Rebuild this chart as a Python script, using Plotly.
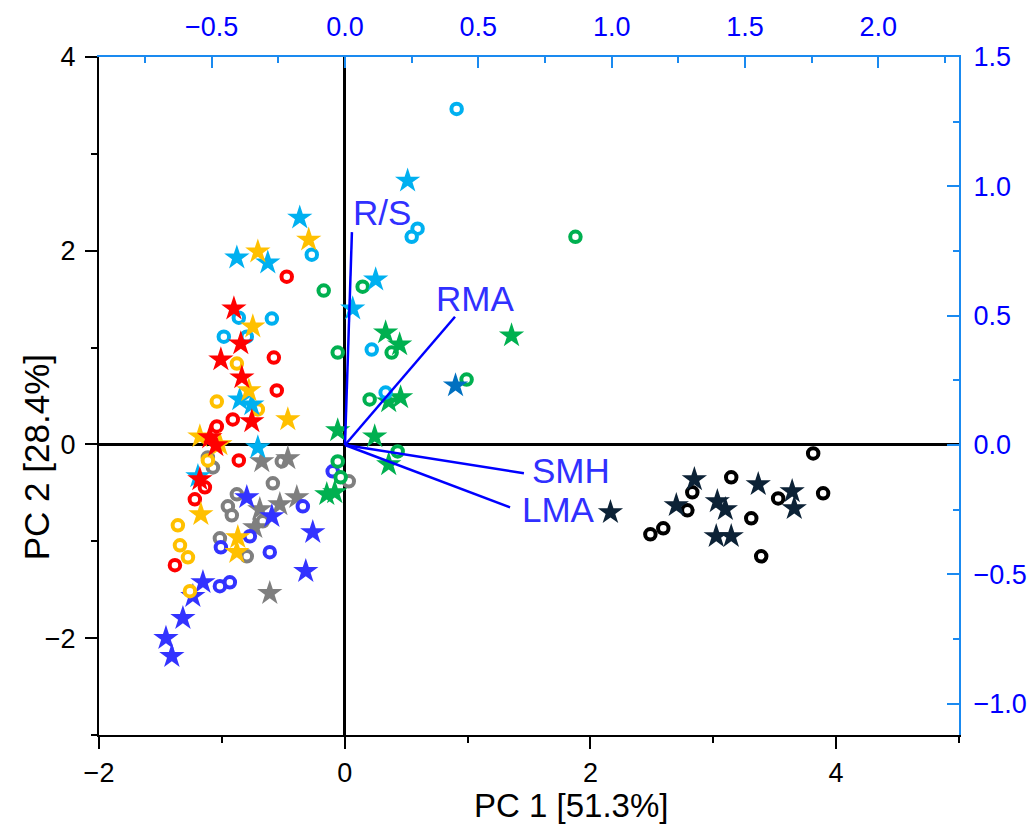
import plotly.graph_objects as go

# ---- PCA scores (PC1, PC2), one list pair per group ----
sky_star_x = [0.512, -0.366, -0.878, -0.626, 0.252, 0.065, -0.854, -0.756, -0.707, -1.195]
sky_star_y = [2.722, 2.340, 1.928, 1.876, 1.701, 1.402, 0.464, 0.412, -0.031, -0.330]
sky_circ_x = [0.911, 0.593, 0.545, -0.268, -0.862, -0.593, -0.984, -0.797, 0.220, 0.333]
sky_circ_y = [3.464, 2.227, 2.144, 1.959, 1.309, 1.299, 1.113, 1.113, 0.979, 0.536]

yel_star_x = [-0.707, -0.293, -0.748, -0.780, -0.463, -1.179, -1.016, -1.171, -0.870, -0.878]
yel_star_y = [1.990, 2.113, 1.216, 0.557, 0.258, 0.082, 0.000, -0.722, -0.959, -1.113]
yel_circ_x = [-0.878, -1.041, -0.707, -1.114, -1.358, -1.341, -1.276, -1.260]
yel_circ_y = [0.835, 0.443, 0.361, -0.165, -0.835, -1.041, -1.165, -1.515]

red_star_x = [-0.902, -0.846, -1.008, -0.837, -0.756, -1.098, -1.049, -1.179]
red_star_y = [1.402, 1.041, 0.876, 0.691, 0.237, 0.072, -0.010, -0.361]
red_circ_x = [-0.472, -0.577, -0.553, -0.911, -1.041, -0.862, -1.138, -1.220, -1.382]
red_circ_y = [1.732, 0.897, 0.557, 0.258, 0.186, -0.165, -0.443, -0.567, -1.247]

grn_star_x = [0.333, 0.447, 1.358, 0.358, 0.455, -0.057, 0.244, 0.358, -0.146, -0.081]
grn_star_y = [1.155, 1.031, 1.124, 0.443, 0.485, 0.144, 0.082, -0.206, -0.515, -0.495]
grn_circ_x = [-0.171, 0.146, 1.878, -0.057, 0.382, 0.992, 0.203, 0.431, -0.057, -0.033]
grn_circ_y = [1.588, 1.629, 2.144, 0.948, 0.948, 0.670, 0.464, -0.072, -0.175, -0.340]

dkb_star_x = [0.902]
dkb_star_y = [0.608]

gry_star_x = [-0.675, -0.463, -0.691, -0.528, -0.390, -0.732, -0.610]
gry_star_y = [-0.175, -0.144, -0.670, -0.619, -0.546, -0.856, -1.536]
gry_circ_x = [-1.114, -1.073, -0.512, -0.585, -0.878, -0.951, -0.919, -0.667, -1.016, -0.797, 0.033]
gry_circ_y = [-0.134, -0.237, -0.175, -0.402, -0.515, -0.639, -0.732, -0.794, -0.969, -1.155, -0.381]

blu_star_x = [-0.797, -0.593, -0.260, -0.317, -1.154, -1.236, -1.317, -1.455, -1.407]
blu_star_y = [-0.546, -0.742, -0.907, -1.309, -1.423, -1.567, -1.794, -2.000, -2.186]
blu_circ_x = [-0.098, -0.341, -0.772, -1.008, -0.610, -1.016, -0.935]
blu_circ_y = [-0.278, -0.639, -0.948, -1.062, -1.113, -1.464, -1.423]

blk_circ_x = [3.813, 3.146, 2.829, 3.894, 3.528, 2.789, 3.309, 2.593, 2.488, 3.390]
blk_circ_y = [-0.093, -0.340, -0.495, -0.505, -0.557, -0.680, -0.763, -0.866, -0.928, -1.155]
nvy_star_x = [2.846, 3.366, 3.642, 3.033, 2.699, 3.098, 3.659, 2.163, 3.024, 3.146]
nvy_star_y = [-0.361, -0.412, -0.485, -0.588, -0.629, -0.670, -0.660, -0.701, -0.948, -0.948]

# ---- variable loadings (top / right axes) ----
load_names = ["R/S", "RMA", "SMH", "LMA"]
load_x = [0.026, 0.4125, 0.671, 0.619]
load_y = [0.823, 0.496, -0.109, -0.241]

FONT = "Liberation Sans, Arial, sans-serif"
AX2_LINE = "#1A8AF0"
AX2_TEXT = "#0000FF"

fig = go.Figure()


def stars(x, y, color):
    fig.add_trace(go.Scatter(
        x=x, y=y, mode="markers",
        marker=dict(symbol="star", size=19, color=color, line=dict(width=0)),
        showlegend=False, hoverinfo="skip"))


def rings(x, y, color):
    fig.add_trace(go.Scatter(
        x=x, y=y, mode="markers",
        marker=dict(symbol="circle", size=10.5, color="white",
                    line=dict(width=4, color=color)),
        showlegend=False, hoverinfo="skip"))


rings(gry_circ_x, gry_circ_y, "#7F7F7F")
stars(gry_star_x, gry_star_y, "#7F7F7F")
rings(blu_circ_x, blu_circ_y, "#3333FF")
stars(blu_star_x, blu_star_y, "#3333FF")
rings(blk_circ_x, blk_circ_y, "#000000")
stars(nvy_star_x, nvy_star_y, "#0C2236")
rings(grn_circ_x, grn_circ_y, "#00B050")
stars(grn_star_x, grn_star_y, "#00B050")
stars(dkb_star_x, dkb_star_y, "#0070C0")
rings(sky_circ_x, sky_circ_y, "#00B0F0")
rings(yel_circ_x, yel_circ_y, "#FFC000")
rings(red_circ_x, red_circ_y, "#FF0000")
stars(sky_star_x, sky_star_y, "#00B0F0")
stars(yel_star_x, yel_star_y, "#FFC000")
stars(red_star_x, red_star_y, "#FF0000")

# loading vectors from the origin
for lx, ly in zip(load_x, load_y):
    fig.add_trace(go.Scatter(
        x=[0, lx], y=[0, ly], mode="lines", xaxis="x2", yaxis="y2",
        line=dict(color="#0000FF", width=2.5),
        showlegend=False, hoverinfo="skip"))

label_pos = {
    "R/S": (0.021, 0.897),
    "RMA": (0.334, 0.568),
    "SMH": (0.694, -0.097),
    "LMA": (0.656, -0.251),
}
for name in load_names:
    px, py = label_pos[name]
    fig.add_annotation(x=px, y=py, xref="x2", yref="y2", text=name,
                       showarrow=False, xanchor="left", yanchor="middle",
                       font=dict(family=FONT, size=35, color="#3030FF"))

# axis titles
fig.add_annotation(x=0.549, y=-0.1335, xref="paper", yref="paper",
                   text="PC 1 [51.3%]", showarrow=False,
                   xanchor="center", yanchor="bottom",
                   font=dict(family=FONT, size=33, color="black"))
fig.add_annotation(x=-0.073, y=0.41, xref="paper", yref="paper",
                   text="PC 2 [28.4%]", showarrow=False, textangle=-90,
                   xanchor="center", yanchor="middle",
                   font=dict(family=FONT, size=35, color="black"))

tickfont = dict(family=FONT, size=27, color="black")
tickfont2 = dict(family=FONT, size=27, color=AX2_TEXT)

fig.update_layout(
    width=1034, height=826,
    margin=dict(l=99, r=75, t=57, b=91, autoexpand=False),
    paper_bgcolor="white", plot_bgcolor="white",
    font=dict(family=FONT),
    xaxis=dict(
        range=[-2, 5], tickvals=[-2, 0, 2, 4], showgrid=False, automargin=False,
        showline=True, linecolor="black", linewidth=2,
        ticks="outside", ticklen=12, tickwidth=2, tickcolor="black",
        minor=dict(tickvals=[-1, 1, 3, 5], ticks="outside", ticklen=6,
                   tickwidth=2, tickcolor="black"),
        zeroline=True, zerolinecolor="black", zerolinewidth=2.5,
        tickfont=tickfont, ticklabelstandoff=1),
    yaxis=dict(
        range=[-3, 4], tickvals=[-2, 0, 2, 4], showgrid=False, automargin=False,
        showline=True, linecolor="black", linewidth=2,
        ticks="outside", ticklen=12, tickwidth=2, tickcolor="black",
        minor=dict(tickvals=[-3, -1, 1, 3], ticks="outside", ticklen=6,
                   tickwidth=2, tickcolor="black"),
        zeroline=True, zerolinecolor="black", zerolinewidth=2.5,
        tickfont=tickfont, ticklabelstandoff=4),
    xaxis2=dict(
        overlaying="x", side="top", anchor="y2", automargin=False,
        range=[-0.9225, 2.3025], tickvals=[-0.5, 0, 0.5, 1.0, 1.5, 2.0],
        tickformat=".1f", showgrid=False, zeroline=False,
        showline=True, linecolor=AX2_LINE, linewidth=2,
        ticks="inside", ticklen=11, tickwidth=2, tickcolor=AX2_LINE,
        minor=dict(tickvals=[-0.75, -0.25, 0.25, 0.75, 1.25, 1.75, 2.25],
                   ticks="inside", ticklen=6, tickwidth=2, tickcolor=AX2_LINE),
        tickfont=tickfont2, ticklabelstandoff=8),
    yaxis2=dict(
        overlaying="y", side="right", anchor="x2", automargin=False,
        range=[-1.121, 1.5], tickvals=[-1.0, -0.5, 0, 0.5, 1.0, 1.5],
        tickformat=".1f", showgrid=False, zeroline=False,
        showline=True, linecolor=AX2_LINE, linewidth=2,
        ticks="inside", ticklen=12, tickwidth=2, tickcolor=AX2_LINE,
        minor=dict(tickvals=[-0.75, -0.25, 0.25, 0.75, 1.25],
                   ticks="inside", ticklen=6, tickwidth=2, tickcolor=AX2_LINE),
        tickfont=tickfont2, ticklabelstandoff=7),
)

fig.write_html("out.html")
